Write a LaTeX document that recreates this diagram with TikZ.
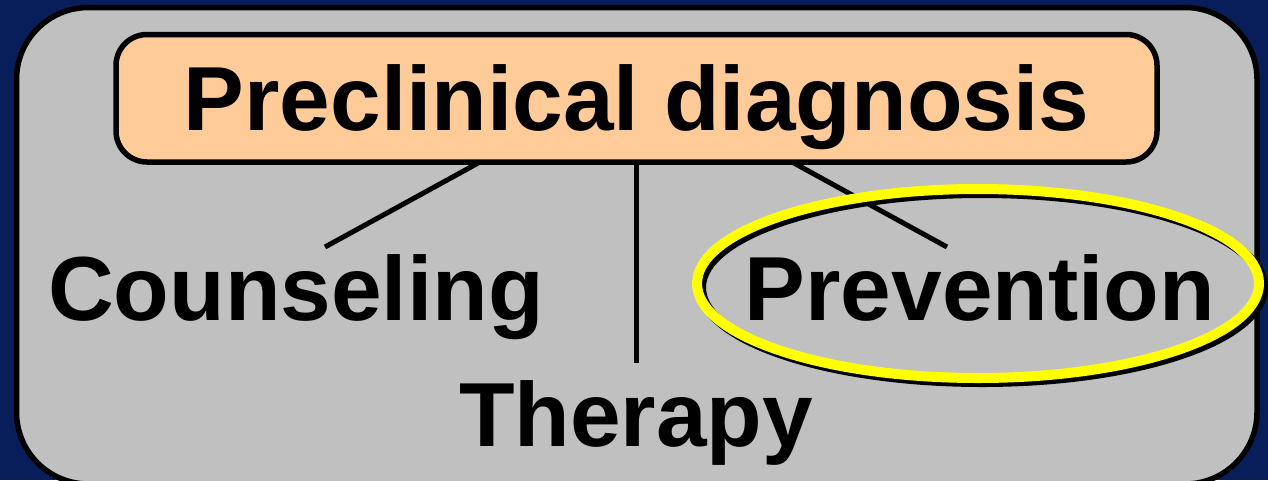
\documentclass[tikz,border=0pt]{standalone}
\usepackage{fontspec}
\setmainfont{Liberation Sans}
\definecolor{navybg}{RGB}{8,30,90}
\definecolor{panelgray}{RGB}{192,192,192}
\definecolor{peach}{RGB}{255,204,153}
\definecolor{hiyellow}{RGB}{255,255,0}
\tikzset{
  panel/.style={fill=panelgray, draw=black, line width=5.5pt, rounded corners=72pt},
  headbox/.style={rectangle, fill=peach, draw=black, line width=5.5pt, rounded corners=31pt, inner sep=0pt},
  lbl/.style={inner sep=0pt, anchor=base, font=\fontsize{91}{91}\selectfont\bfseries},
  conn/.style={draw=black, line width=5pt},
  ringshadow/.style={draw=black, line width=10pt},
  ring/.style={draw=hiyellow, line width=10pt}
}
\begin{document}
\begin{tikzpicture}[x=1pt,y=-1pt]
\fill[navybg] (0,0) rectangle (1268,480);
\useasboundingbox (0,0) rectangle (1268,480);
\draw[panel] (16.5,7.5) rectangle (1257,484);
\node[headbox, minimum width=1041pt, minimum height=127.5pt] (pre) at (636.5,98.25) {};
\node[lbl] (pretext) at (636.5,130) {Preclinical diagnosis};
\node[lbl] (couns) at (296,320) {Counseling};
\node[lbl] (prev) at (980,320) {Prevention};
\node[lbl] (ther) at (636,446) {Therapy};
\coordinate (t1) at (480,162);
\coordinate (b1) at (325,247);
\coordinate (t2) at (636.3,162);
\coordinate (b2) at (636.3,363);
\coordinate (t3) at (792,162);
\coordinate (b3) at (947,247);
\draw[conn] (t1) -- (b1);
\draw[conn] (t2) -- (b2);
\draw[conn] (t3) -- (b3);
\coordinate (ringc) at (978,283.5);
\coordinate (ringsh) at (982,287.5);
\draw[ringshadow] (ringsh) ellipse [x radius=281, y radius=94.5];
\draw[ring] (ringc) ellipse [x radius=281, y radius=94.5];
\end{tikzpicture}
\end{document}
